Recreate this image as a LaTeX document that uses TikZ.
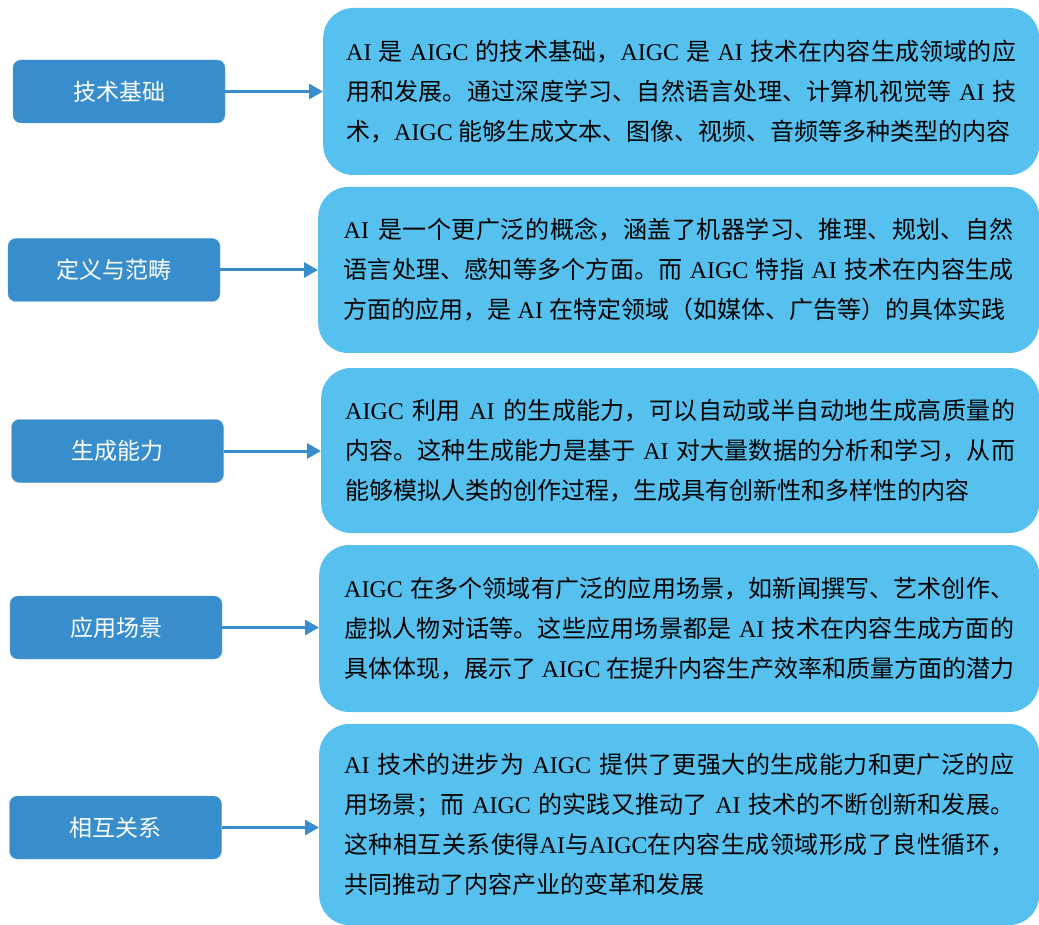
\documentclass[tikz,border=0pt]{standalone}
\usepackage{fontspec}
\setmainfont{Noto Sans CJK SC}
\newfontfamily\enfont{Liberation Serif}
\usetikzlibrary{arrows.meta}
\definecolor{darkblue}{HTML}{388DCC}
\definecolor{lightblue}{HTML}{56C1EE}
\newcommand{\tAI}{{\enfont AI}}
\newcommand{\tAIGC}{{\enfont AIGC}}
\newcommand{\bodyfont}{\fontsize{24}{40}\selectfont\spaceskip=6pt plus 6pt minus 2pt\relax}
\XeTeXlinebreaklocale "zh"
\XeTeXlinebreakskip=0pt plus 1pt

\begin{document}
\begin{tikzpicture}[x=1pt,y=-1pt,
    labelbox/.style={fill=darkblue,draw=darkblue!80!white,rounded corners=8pt,text=white,
        minimum width=212pt,minimum height=63pt,font=\fontsize{23}{28}\selectfont},
    textbox/.style={fill=lightblue,rounded corners=30pt,anchor=west,text width=670pt,
        inner xsep=23pt,align=justify,font=\bodyfont},
    linkarrow/.style={draw=darkblue,line width=3pt,-{Triangle[length=14pt,width=15pt]}}]

        % page
        \useasboundingbox (0,0) rectangle (1039,925);

        % left labels
        \foreach \i/\x/\y/\t in {1/119/91.5/技术基础,2/114/270/定义与范畴,3/117.5/451/生成能力,
                4/116/627.5/应用场景,5/115.5/827.5/相互关系}
            \node[labelbox] (l\i) at (\x,\y) {\t};

        % right texts
        \node[textbox,minimum width=716pt,minimum height=167pt] (r1) at (323,91.5)
            {\tAI{} 是 \tAIGC{} 的技术基础，\tAIGC{} 是 \tAI{} 技术在内容生成领域的应\linebreak
             用和发展。通过深度学习、自然语言处理、计算机视觉等 \tAI{} 技\linebreak
             术，\tAIGC{} 能够生成文本、图像、视频、音频等多种类型的内容};
        \node[textbox,minimum width=721pt,minimum height=166pt] (r2) at (318,270)
            {\tAI{} 是一个更广泛的概念，涵盖了机器学习、推理、规划、自然\linebreak
             语言处理、感知等多个方面。而 \tAIGC{} 特指 \tAI{} 技术在内容生成\linebreak
             方面的应用，是 \tAI{} 在特定领域（如媒体、广告等）的具体实践};
        \node[textbox,minimum width=718pt,minimum height=165pt] (r3) at (321,450.5)
            {\tAIGC{} 利用 \tAI{} 的生成能力，可以自动或半自动地生成高质量的\linebreak
             内容。这种生成能力是基于 \tAI{} 对大量数据的分析和学习，从而\linebreak
             能够模拟人类的创作过程，生成具有创新性和多样性的内容};
        \node[textbox,minimum width=720pt,minimum height=167pt] (r4) at (319,628.5)
            {\tAIGC{} 在多个领域有广泛的应用场景，如新闻撰写、艺术创作、\linebreak
             虚拟人物对话等。这些应用场景都是 \tAI{} 技术在内容生成方面的\linebreak
             具体体现，展示了 \tAIGC{} 在提升内容生产效率和质量方面的潜力};
        \node[textbox,minimum width=720pt,minimum height=201pt] (r5) at (319,824.5)
            {\tAI{} 技术的进步为 \tAIGC{} 提供了更强大的生成能力和更广泛的应\linebreak
             用场景；而 \tAIGC{} 的实践又推动了 \tAI{} 技术的不断创新和发展。\linebreak
             这种相互关系使得\tAI{}与\tAIGC{}在内容生成领域形成了良性循环，\linebreak
             共同推动了内容产业的变革和发展};

        % arrows
        \foreach \i in {1,...,5}
            \draw[linkarrow] (l\i.east) -- (l\i.east -| r\i.west);
    \end{tikzpicture}
\end{document}
